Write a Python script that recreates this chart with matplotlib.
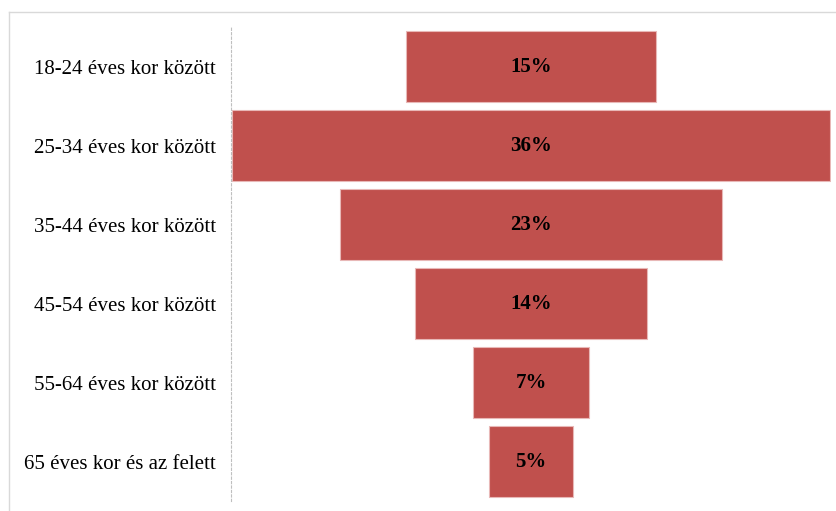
import matplotlib.pyplot as plt
from matplotlib.lines import Line2D

categories = ['18-24 éves kor között', '25-34 éves kor között', '35-44 éves kor között',
              '45-54 éves kor között', '55-64 éves kor között', '65 éves kor és az felett']
shares = [15, 36, 23, 14, 7, 5]

bar_color = '#C0504D'
plt.rcParams['font.family'] = ['Liberation Serif', 'DejaVu Serif']

W, H = 837, 511
fig = plt.figure(figsize=[W / 100, H / 100], dpi=100)
ax = fig.add_axes([231 / W, 1 - 501 / H, (831 - 231) / W, (501 - 27) / H])

y = list(range(len(categories)))
# funnel: every bar centred on zero
lefts = [-v / 2 for v in shares]
ax.barh(y, shares, left=lefts, height=0.91, color=bar_color,
        edgecolor='#E8B8B7', linewidth=0.8)

for yi, v in zip(y, shares):
    ax.text(0, yi, f'{v}%', ha='center', va='center', fontsize=15,
            fontweight='bold', color='black')

ax.set_xlim(-18.05, 18.05)
ax.set_ylim(len(categories) - 0.5, -0.5)
ax.set_yticks(y)
ax.set_yticklabels(categories, fontsize=15)
ax.tick_params(axis='y', length=0, pad=11)
ax.set_xticks([])

for s in ['top', 'right', 'bottom']:
    ax.spines[s].set_visible(False)
ax.spines['left'].set_color('#BFBFBF')
ax.spines['left'].set_linestyle((0, (2, 2)))
ax.spines['left'].set_linewidth(0.8)

# chart area outline (top and left edges)
fig.add_artist(Line2D([9 / W, 9 / W], [0, 1 - 12 / H], transform=fig.transFigure,
                      color='#D9D9D9', linewidth=1))
fig.add_artist(Line2D([9 / W, 1], [1 - 12 / H, 1 - 12 / H], transform=fig.transFigure,
                      color='#D9D9D9', linewidth=1))

fig.savefig('out.png', dpi=100)
